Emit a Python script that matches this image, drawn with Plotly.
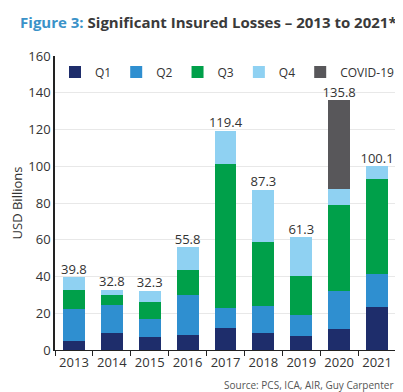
import plotly.graph_objects as go

years = ["2013", "2014", "2015", "2016", "2017", "2018", "2019", "2020", "2021"]
q1 = [4.7, 9.0, 6.9, 8.0, 11.8, 9.0, 7.4, 11.2, 23.4]
q2 = [17.8, 15.5, 10.1, 21.7, 11.2, 14.7, 11.8, 21.1, 17.7]
q3 = [10.0, 5.4, 9.1, 13.6, 78.0, 34.9, 21.2, 46.4, 52.1]
q4 = [7.3, 2.9, 6.2, 12.5, 18.4, 28.7, 20.9, 9.1, 6.9]
covid = [0, 0, 0, 0, 0, 0, 0, 48.0, 0]
totals = [39.8, 32.8, 32.3, 55.8, 119.4, 87.3, 61.3, 135.8, 100.1]
total_labels = ["39.8", "32.8", "32.3", "55.8", "119.4", "87.3", "61.3", "135.8", "100.1"]

series = [
    ("Q1", q1, "#1e2d6b"),
    ("Q2", q2, "#2f8fd0"),
    ("Q3", q3, "#00a04a"),
    ("Q4", q4, "#8fd1f2"),
    ("COVID-19", covid, "#58575a"),
]

FONT = "Open Sans"
XDOM_END = 341 / 356

fig = go.Figure()
for name, vals, col in series:
    fig.add_trace(go.Bar(x=years, y=vals, name=name, marker=dict(color=col, line=dict(width=0))))

fig.add_trace(go.Scatter(x=years, y=totals, mode="text", text=total_labels,
                         textposition="top center", showlegend=False,
                         textfont=dict(family=FONT, size=13, color="#333333"),
                         hoverinfo="skip"))

fig.update_layout(
    barmode="stack",
    bargap=0.42,
    width=403, height=392,
    margin=dict(l=47, r=0, t=48, b=50),
    paper_bgcolor="white", plot_bgcolor="white",
    font=dict(family=FONT, size=13, color="#333333"),
    title=dict(
        text="<b><span style='color:#3a92c8'>Figure 3:</span> Significant Insured Losses – 2013 to 2021*</b>",
        x=0.03, xanchor="left", y=0.975, yanchor="top",
        font=dict(family=FONT, size=15, color="#3a3a3a"),
    ),
    legend=dict(orientation="h", x=0.0, y=0.995, xanchor="left", yanchor="top",
                font=dict(family=FONT, size=12, color="#333333"),
                bgcolor="rgba(0,0,0,0)", traceorder="normal",
                itemwidth=30),
    showlegend=True,
)
fig.update_xaxes(type="category", domain=[0, XDOM_END], showline=True, linecolor="#222222", linewidth=1,
                 ticks="outside", tickson="boundaries", ticklen=5, tickcolor="#222222",
                 tickangle=0,
                 tickfont=dict(family=FONT, size=13, color="#333333"), showgrid=False)
fig.update_yaxes(range=[0, 160], dtick=20, showline=True, linecolor="#222222", linewidth=1.5,
                 showgrid=True, gridcolor="#e8e8e8", gridwidth=1, zeroline=False,
                 ticks="", tickfont=dict(family=FONT, size=13, color="#333333"),
                 title=dict(text="USD Billions", font=dict(family=FONT, size=13, color="#333333"), standoff=4))

fig.add_annotation(text="Source: PCS, ICA, AIR, Guy Carpenter", xref="paper", yref="paper",
                   x=XDOM_END, y=-0.119, xanchor="right", yanchor="middle", showarrow=False,
                   font=dict(family=FONT, size=10, color="#555555"))

fig.write_html("out.html")
